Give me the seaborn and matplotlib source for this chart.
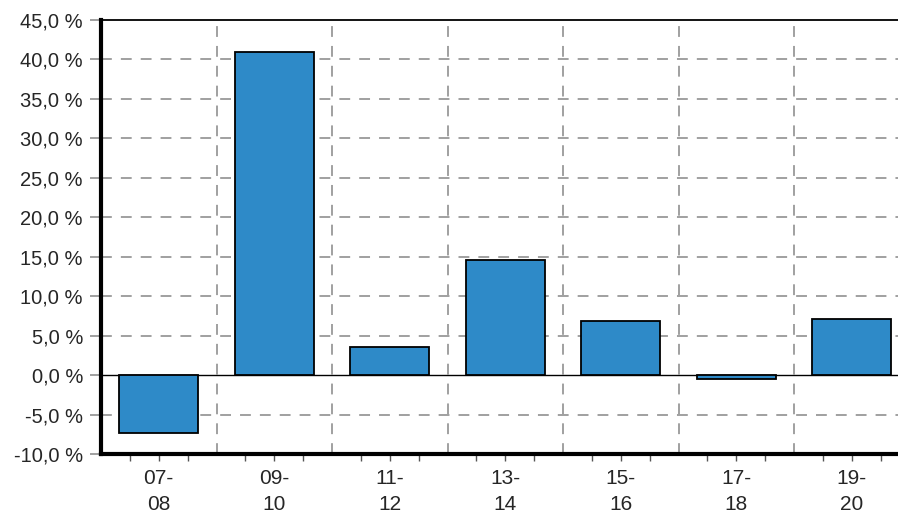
import numpy as np
import pandas as pd
import matplotlib
matplotlib.use("Agg")
import matplotlib.pyplot as plt
import seaborn as sns
from matplotlib.ticker import FixedLocator, FixedFormatter

periods = ["07-\n08", "09-\n10", "11-\n12", "13-\n14", "15-\n16", "17-\n18", "19-\n20"]
change = [-7.4, 41.0, 3.5, 14.6, 6.8, -0.5, 7.1]
y_ticks = [-10, -5, 0, 5, 10, 15, 20, 25, 30, 35, 40, 45]

df = pd.DataFrame({"period": periods, "change": change})

sns.set_style("white")
plt.rcParams["font.family"] = ["Liberation Sans", "DejaVu Sans"]

fig = plt.figure(figsize=(8.98, 5.16), dpi=100)
ax = fig.add_axes([101 / 898, 62 / 516, 7 * 115.5 / 898, 434 / 516])

sns.barplot(data=df, x="period", y="change", color="#2e8ac8", saturation=1,
            width=0.685, edgecolor="black", linewidth=1.3, ax=ax, zorder=3)

n = len(periods)
ax.set_xlim(-0.5, n - 0.5)
ax.set_ylim(-10, 45)

# grid
grid_col = "#999999"
bounds = np.arange(-0.5, n, 1.0)
ax.xaxis.set_major_locator(FixedLocator(bounds))
ax.xaxis.set_major_formatter(FixedFormatter([""] * len(bounds)))
minor = []
labels = []
for i in range(n):
    for off, lab in [(-0.25, ""), (0.0, periods[i]), (0.25, "")]:
        minor.append(i + off)
        labels.append(lab)
ax.xaxis.set_minor_locator(FixedLocator(minor))
ax.xaxis.set_minor_formatter(FixedFormatter(labels))
ax.tick_params(axis="x", which="major", length=8, width=1.3, color=grid_col, direction="out")
ax.tick_params(axis="x", which="minor", length=5, width=1.0, color="#555555",
               labelsize=15, pad=6, bottom=True)

ax.set_yticks(y_ticks)
ax.set_yticklabels([f"{v:.1f} %".replace(".", ",") for v in y_ticks])
ax.tick_params(axis="y", length=8, width=1.3, color=grid_col, labelsize=14.5, pad=5, left=True)

for b in bounds[1:]:
    ax.axvline(b, color=grid_col, lw=1.3, ls=(0, (6, 5)), zorder=1)
for v in y_ticks[1:-1]:
    if v != 0:
        ax.axhline(v, color=grid_col, lw=1.3, ls=(0, (6, 5)), zorder=1)
ax.axhline(0, color="black", lw=1.0, zorder=2)

for s in ["left", "bottom"]:
    ax.spines[s].set_linewidth(3)
    ax.spines[s].set_color("black")
ax.spines["top"].set_linewidth(1.3)
ax.spines["top"].set_color("black")
ax.spines["right"].set_visible(False)

for lab in ax.get_xticklabels(minor=True):
    lab.set_linespacing(1.45)

ax.set_xlabel("")
ax.set_ylabel("")

fig.savefig("out.png", dpi=100)
